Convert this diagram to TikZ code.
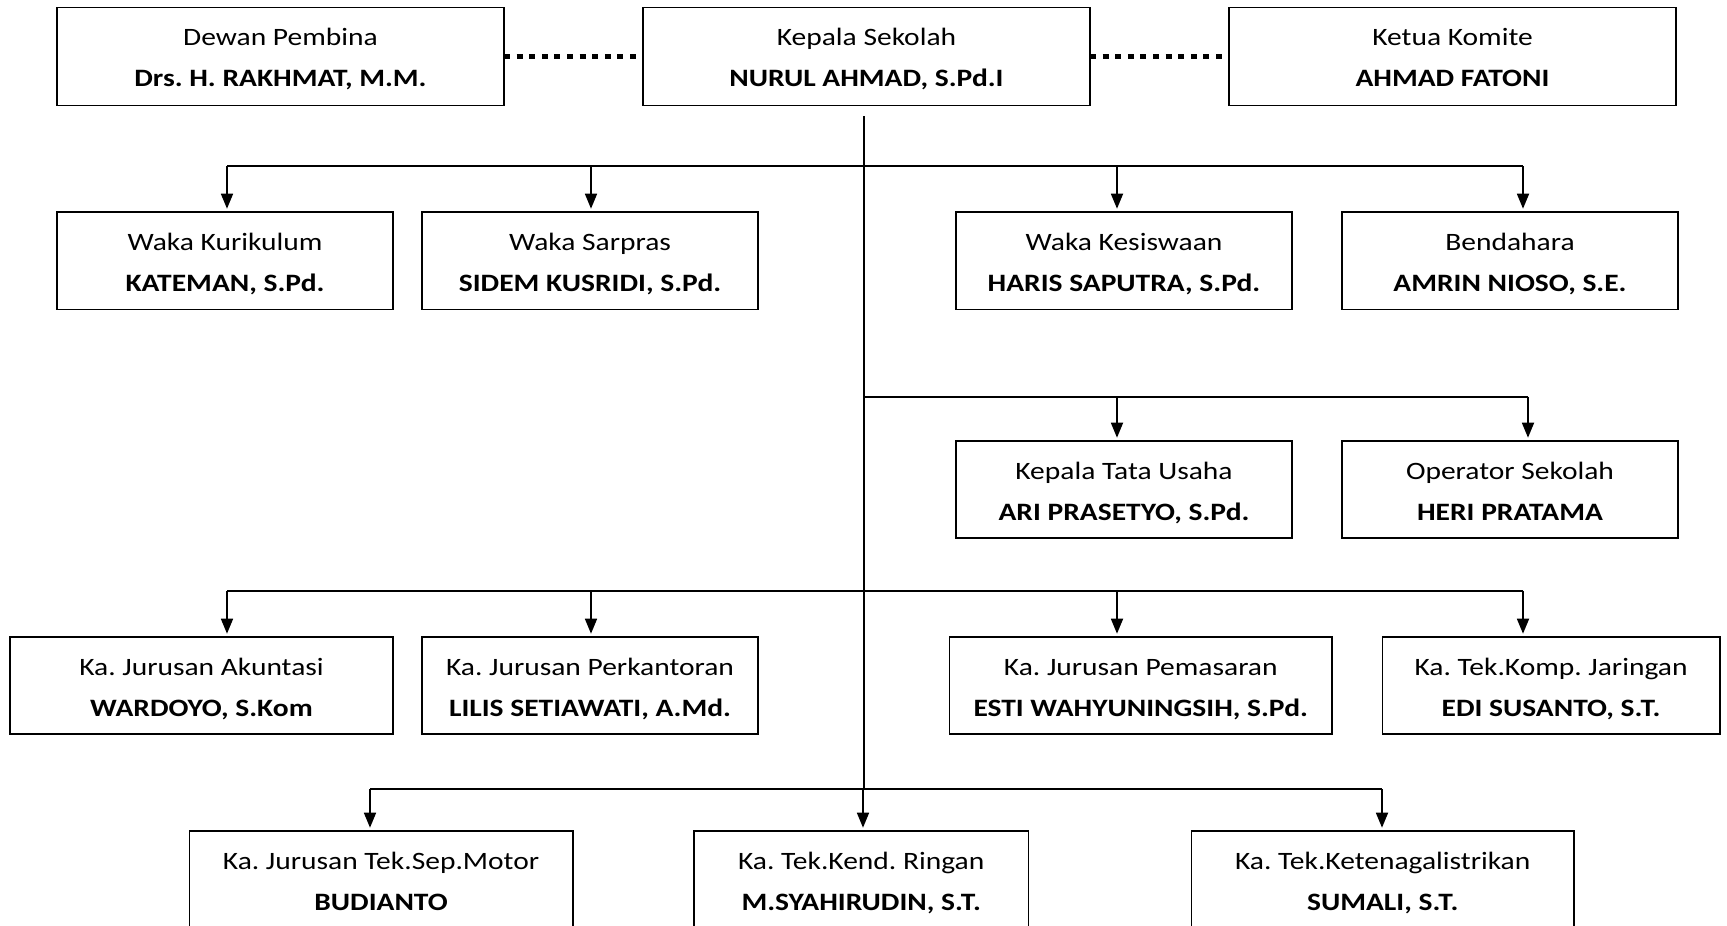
\documentclass[tikz,border=0pt]{standalone}
\usepackage{fontspec}
\setmainfont{Carlito}[FakeStretch=1.18]
\usetikzlibrary{arrows.meta,calc}
\frenchspacing
\tikzset{
  orgbox/.style={draw, line width=1.6pt, inner sep=0pt, outer sep=0pt, anchor=north west},
  lbl/.style={anchor=base, inner sep=0pt, font=\fontsize{25}{30}\selectfont},
  bus/.style={line width=1.7pt},
  arr/.style={line width=1.7pt, -{Triangle[length=15pt,width=12pt]}, shorten >=3pt},
  dots/.style={line width=5.5pt, dash pattern=on 6pt off 6.6pt}
}
% #1 name, #2 x left, #3 x right, #4 y top, #5 y bottom, #6 title, #7 person
\newcommand\obox[7]{%
  \node[orgbox, minimum width={#3-#2}, minimum height={#5-#4}] (#1) at (#2,#4) {};
  \node[lbl] (#1-t) at ($(#1.north)+(0,38.5)$) {#6};
  \node[lbl] (#1-p) at ($(#1.north)+(0,79.5)$) {\bfseries #7};
}
\begin{document}
\begin{tikzpicture}[x=1pt,y=-1pt]
\useasboundingbox (0,0) rectangle (1727,926);
\clip (0,0) rectangle (1727,926);
% row 1
\obox{dewan}{57}{504}{7.3}{105.3}{Dewan Pembina}{Drs. H. RAKHMAT, M.M.}
\obox{kepala}{643}{1090}{7.3}{105.3}{Kepala Sekolah}{NURUL AHMAD, S.Pd.I}
\obox{ketua}{1229}{1676}{7.3}{105.3}{Ketua Komite}{AHMAD FATONI}
\draw[dots] (dewan.east) -- (kepala.west);
\draw[dots] (kepala.east) -- (ketua.west);
% row 2
\obox{kur}{57}{393}{211.7}{309.3}{Waka Kurikulum}{KATEMAN, S.Pd.}
\obox{sar}{422}{758}{211.7}{309.3}{Waka Sarpras}{SIDEM KUSRIDI, S.Pd.}
\obox{kes}{956}{1292}{211.7}{309.3}{Waka Kesiswaan}{HARIS SAPUTRA, S.Pd.}
\obox{ben}{1342}{1678}{211.7}{309.3}{Bendahara}{AMRIN NIOSO, S.E.}
% row 3
\obox{tu}{956}{1292}{440.7}{537.7}{Kepala Tata Usaha}{ARI PRASETYO, S.Pd.}
\obox{op}{1342}{1678}{440.7}{537.7}{Operator Sekolah}{HERI PRATAMA}
% row 4
\obox{ak}{10}{393}{636.7}{734}{Ka. Jurusan Akuntasi}{WARDOYO, S.Kom}
\obox{pk}{422}{758}{636.7}{734}{Ka. Jurusan Perkantoran}{LILIS SETIAWATI, A.Md.}
\obox{pm}{949.5}{1332}{636.7}{734}{Ka. Jurusan Pemasaran}{ESTI WAHYUNINGSIH, S.Pd.}
\obox{tkj}{1382.4}{1719.7}{636.7}{734}{Ka. Tek.Komp. Jaringan}{EDI SUSANTO, S.T.}
% row 5
\obox{tsm}{189.4}{572.7}{830.7}{940}{Ka. Jurusan Tek.Sep.Motor}{BUDIANTO}
\obox{tkr}{693.8}{1028.6}{830.7}{940}{Ka. Tek.Kend. Ringan}{M.SYAHIRUDIN, S.T.}
\obox{tl}{1191.6}{1573.8}{830.7}{940}{Ka. Tek.Ketenagalistrikan}{SUMALI, S.T.}
% trunk
\coordinate (trunkTop) at (864,116);
\coordinate (trunkBot) at (864,789.3);
\draw[bus] (trunkTop) -- (trunkBot);
% bus row 2
\coordinate (b2a) at (227,166);
\coordinate (b2b) at (591,166);
\coordinate (b2c) at (1117,166);
\coordinate (b2d) at (1523,166);
\draw[bus] (b2a) -- (b2d);
\draw[arr] (b2a) -- (b2a |- kur.north);
\draw[arr] (b2b) -- (b2b |- sar.north);
\draw[arr] (b2c) -- (b2c |- kes.north);
\draw[arr] (b2d) -- (b2d |- ben.north);
% bus row 3
\coordinate (b3s) at (864,396.7);
\coordinate (b3a) at (1117,396.7);
\coordinate (b3b) at (1528,396.7);
\draw[bus] (b3s) -- (b3b);
\draw[arr] (b3a) -- (b3a |- tu.north);
\draw[arr] (b3b) -- (b3b |- op.north);
% bus row 4
\coordinate (b4a) at (227,590.7);
\coordinate (b4b) at (591,590.7);
\coordinate (b4c) at (1117,590.7);
\coordinate (b4d) at (1523,590.7);
\draw[bus] (b4a) -- (b4d);
\draw[arr] (b4a) -- (b4a |- ak.north);
\draw[arr] (b4b) -- (b4b |- pk.north);
\draw[arr] (b4c) -- (b4c |- pm.north);
\draw[arr] (b4d) -- (b4d |- tkj.north);
% bus row 5
\coordinate (b5a) at (370,789.3);
\coordinate (b5b) at (863,789.3);
\coordinate (b5c) at (1382,789.3);
\draw[bus] (b5a) -- (b5c);
\draw[arr] (b5a) -- (b5a |- tsm.north);
\draw[arr] (b5b) -- (b5b |- tkr.north);
\draw[arr] (b5c) -- (b5c |- tl.north);
\end{tikzpicture}
\end{document}
